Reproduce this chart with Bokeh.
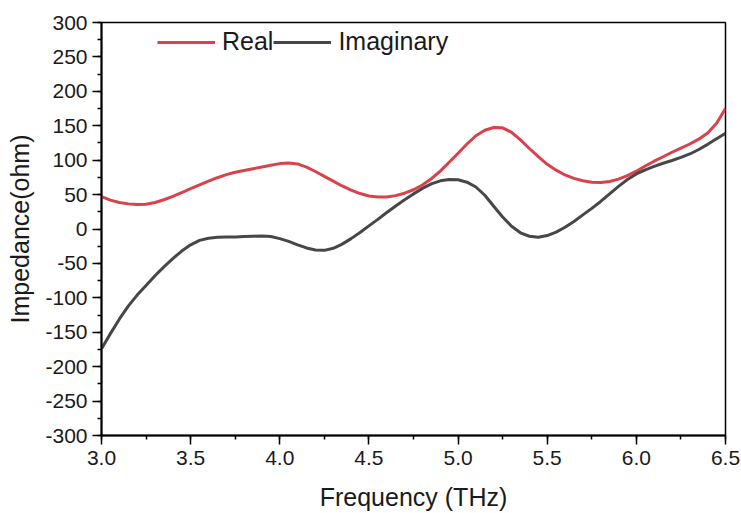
from bokeh.plotting import figure
from bokeh.models import Range1d, FixedTicker, NumeralTickFormatter, Legend, LegendItem
from bokeh.embed import file_html
from bokeh.resources import INLINE

# Frequency samples (THz)
freq = [3.00, 3.05, 3.10, 3.15, 3.20, 3.25, 3.30, 3.35, 3.40, 3.45,
        3.50, 3.55, 3.60, 3.65, 3.70, 3.75, 3.80, 3.85, 3.90, 3.95,
        4.00, 4.05, 4.10, 4.15, 4.20, 4.25, 4.30, 4.35, 4.40, 4.45,
        4.50, 4.55, 4.60, 4.65, 4.70, 4.75, 4.80, 4.85, 4.90, 4.95,
        5.00, 5.05, 5.10, 5.15, 5.20, 5.25, 5.30, 5.35, 5.40, 5.45,
        5.50, 5.55, 5.60, 5.65, 5.70, 5.75, 5.80, 5.85, 5.90, 5.95,
        6.00, 6.05, 6.10, 6.15, 6.20, 6.25, 6.30, 6.35, 6.40, 6.45,
        6.50]

# Real part of the impedance (ohm)
real = [47, 42, 38.5, 36.5, 35.5, 36, 38.5, 42.5, 47.5, 53,
        58.5, 64, 69.5, 74.5, 79, 82.5, 85, 87.5, 90, 92.5,
        95, 96, 94.5, 90, 83.5, 76.5, 69.5, 62.5, 56.5, 51.5,
        48, 46.5, 46.5, 48.5, 52, 57, 64, 73, 84, 97,
        110, 123.5, 135.5, 143.5, 147.5, 147, 140.5, 129.5, 117, 105,
        94, 85.5, 78.5, 73.5, 70, 68, 67.5, 69, 72.5, 77.5,
        84, 91.5, 98.5, 105, 111.5, 117.5, 123.5, 130.5, 139.5, 153.5,
        175]

# Imaginary part of the impedance (ohm)
imag = [-174, -152, -131, -112, -96, -82, -68, -55, -43, -32,
        -23, -16.5, -13.5, -12, -11.5, -11.5, -11, -10.5, -10, -11,
        -14, -18, -23, -27.5, -30.5, -31, -28, -22, -14, -5,
        4.5, 14, 24, 33.5, 42.5, 51, 59, 65.5, 70, 72,
        71.5, 68, 61, 49, 33, 17.5, 4, -5.5, -10.5, -12,
        -9.5, -4.5, 2.5, 11, 20.5, 30, 40, 51, 62, 72,
        80, 86, 91, 95.5, 99.5, 104, 109, 115.5, 123, 131,
        139]

x_ticks = [3.0, 3.5, 4.0, 4.5, 5.0, 5.5, 6.0, 6.5]
x_minor = [3.0 + 0.25 * i for i in range(15)]
y_ticks = list(range(-300, 301, 50))
y_minor = list(range(-300, 301, 25))

FONT = "Liberation Sans"

p = figure(width=741, height=513, output_backend="svg", toolbar_location=None,
           x_range=Range1d(3.0, 6.5), y_range=Range1d(-300, 300),
           min_border_left=101, min_border_right=16,
           min_border_top=22, min_border_bottom=78)

p.grid.visible = False
p.background_fill_color = "white"
p.border_fill_color = "white"
p.outline_line_color = "black"
p.outline_line_width = 1.5

r_real = p.line(freq, real, line_color="#d9424b", line_width=3, line_join="round")
r_imag = p.line(freq, imag, line_color="#474747", line_width=3, line_join="round")

for ax in (p.xaxis[0], p.yaxis[0]):
    ax.axis_line_color = "black"
    ax.axis_line_width = 2
    ax.major_tick_line_color = "black"
    ax.major_tick_line_width = 1.5
    ax.minor_tick_line_color = "black"
    ax.minor_tick_line_width = 1.5
    ax.major_tick_in = 0
    ax.major_tick_out = 9
    ax.minor_tick_in = 0
    ax.minor_tick_out = 4
    ax.major_label_text_font = FONT
    ax.major_label_text_font_size = "21px"
    ax.major_label_text_color = "#1a1a1a"
    ax.axis_label_text_font = FONT
    ax.axis_label_text_font_size = "25px"
    ax.axis_label_text_font_style = "normal"
    ax.axis_label_text_color = "#1a1a1a"

p.xaxis.ticker = FixedTicker(ticks=x_ticks, minor_ticks=x_minor)
p.xaxis.formatter = NumeralTickFormatter(format="0.0")
p.xaxis.axis_label = "Frequency (THz)"
p.xaxis.major_label_standoff = 6
p.xaxis.axis_label_standoff = 15

p.yaxis.ticker = FixedTicker(ticks=y_ticks, minor_ticks=y_minor)
p.yaxis.formatter = NumeralTickFormatter(format="0")
p.yaxis.axis_label = "Impedance(ohm)"
p.yaxis.major_label_standoff = 5
p.yaxis.axis_label_standoff = 8

legend = Legend(items=[LegendItem(label="Real", renderers=[r_real]),
                       LegendItem(label="Imaginary", renderers=[r_imag])],
                orientation="horizontal", location=(56, 379),
                glyph_width=58, glyph_height=24, label_standoff=7, spacing=0,
                padding=0, margin=0,
                label_text_font=FONT, label_text_font_size="25px",
                label_text_color="#1a1a1a",
                background_fill_alpha=0, border_line_alpha=0)
p.add_layout(legend, "center")

open("out.html", "w").write(file_html(p, INLINE))
